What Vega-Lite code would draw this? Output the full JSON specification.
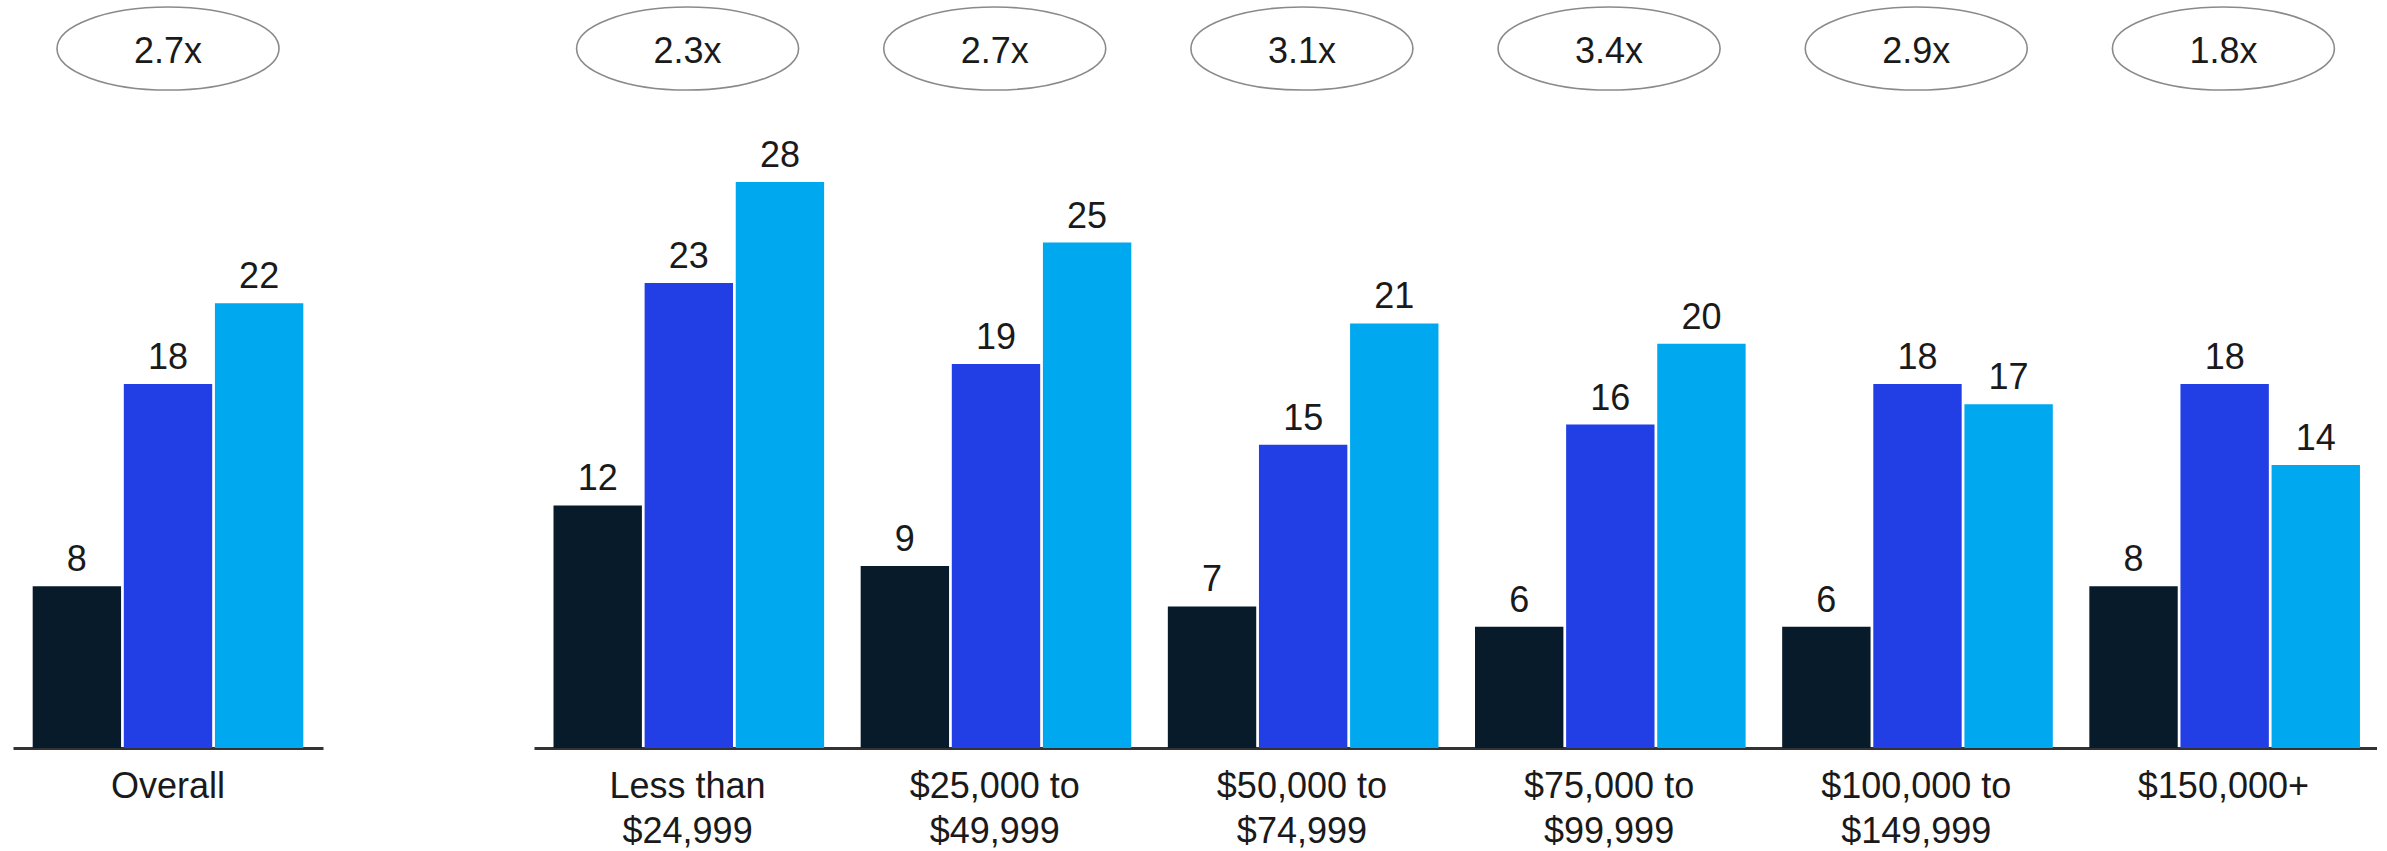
{
  "$schema": "https://vega.github.io/schema/vega-lite/v6.json",
  "background": "white",
  "padding": {"left": 13, "top": 0, "right": 0, "bottom": 0},
  "spacing": 211,
  "bounds": "flush",
  "config": {
    "view": {"stroke": null},
    "font": "Liberation Sans",
    "axis": {"grid": false}
  },
  "datasets": {
    "bars": [
      {"panel": "left", "group": "Overall", "series": "A", "value": 8},
      {"panel": "left", "group": "Overall", "series": "B", "value": 18},
      {"panel": "left", "group": "Overall", "series": "C", "value": 22},
      {"panel": "right", "group": "Less than\n$24,999", "series": "A", "value": 12},
      {"panel": "right", "group": "Less than\n$24,999", "series": "B", "value": 23},
      {"panel": "right", "group": "Less than\n$24,999", "series": "C", "value": 28},
      {"panel": "right", "group": "$25,000 to\n$49,999", "series": "A", "value": 9},
      {"panel": "right", "group": "$25,000 to\n$49,999", "series": "B", "value": 19},
      {"panel": "right", "group": "$25,000 to\n$49,999", "series": "C", "value": 25},
      {"panel": "right", "group": "$50,000 to\n$74,999", "series": "A", "value": 7},
      {"panel": "right", "group": "$50,000 to\n$74,999", "series": "B", "value": 15},
      {"panel": "right", "group": "$50,000 to\n$74,999", "series": "C", "value": 21},
      {"panel": "right", "group": "$75,000 to\n$99,999", "series": "A", "value": 6},
      {"panel": "right", "group": "$75,000 to\n$99,999", "series": "B", "value": 16},
      {"panel": "right", "group": "$75,000 to\n$99,999", "series": "C", "value": 20},
      {"panel": "right", "group": "$100,000 to\n$149,999", "series": "A", "value": 6},
      {"panel": "right", "group": "$100,000 to\n$149,999", "series": "B", "value": 18},
      {"panel": "right", "group": "$100,000 to\n$149,999", "series": "C", "value": 17},
      {"panel": "right", "group": "$150,000+", "series": "A", "value": 8},
      {"panel": "right", "group": "$150,000+", "series": "B", "value": 18},
      {"panel": "right", "group": "$150,000+", "series": "C", "value": 14}
    ],
    "ratios": [
      {"panel": "left", "group": "Overall", "ratio": "2.7x"},
      {"panel": "right", "group": "Less than\n$24,999", "ratio": "2.3x"},
      {"panel": "right", "group": "$25,000 to\n$49,999", "ratio": "2.7x"},
      {"panel": "right", "group": "$50,000 to\n$74,999", "ratio": "3.1x"},
      {"panel": "right", "group": "$75,000 to\n$99,999", "ratio": "3.4x"},
      {"panel": "right", "group": "$100,000 to\n$149,999", "ratio": "2.9x"},
      {"panel": "right", "group": "$150,000+", "ratio": "1.8x"}
    ]
  },
  "resolve": {"scale": {"x": "independent"}},
  "hconcat": [
    {
      "width": 310,
      "height": 748,
      "encoding": {
        "x": {
          "field": "group", "type": "nominal", "sort": null, "title": null,
          "scale": {"paddingInner": 0.127, "paddingOuter": 0.0635},
          "axis": {
            "domain": true, "domainColor": "#333333", "domainWidth": 3,
            "ticks": false, "labelAngle": 0, "labelFontSize": 36, "labelColor": "#1a1a1a",
            "labelPadding": 21, "labelLineHeight": 45, "labelLimit": 500,
            "labelExpr": "split(datum.label, '\\n')"
          }
        }
      },
      "layer": [
        {
          "data": {"name": "bars"},
          "transform": [{"filter": "datum.panel === 'left'"}],
          "mark": {"type": "bar"},
          "encoding": {
            "xOffset": {"field": "series", "type": "nominal", "scale": {"paddingInner": 0.03}},
            "y": {"field": "value", "type": "quantitative", "scale": {"domain": [0, 37], "nice": false}, "axis": null},
            "color": {"field": "series", "type": "nominal", "legend": null,
              "scale": {"domain": ["A", "B", "C"], "range": ["#071b2a", "#213fe5", "#00a8f0"]}}
          }
        },
        {
          "data": {"name": "bars"},
          "transform": [{"filter": "datum.panel === 'left'"}],
          "mark": {"type": "text", "fontSize": 36, "color": "#1a1a1a", "baseline": "alphabetic", "dy": -15},
          "encoding": {
            "xOffset": {"field": "series", "type": "nominal", "scale": {"paddingInner": 0.03}},
            "y": {"field": "value", "type": "quantitative"},
            "text": {"field": "value", "type": "quantitative"}
          }
        },
        {
          "data": {"name": "ratios"},
          "transform": [{"filter": "datum.panel === 'left'"}],
          "mark": {"type": "point", "filled": false, "color": "#8a8a8a", "strokeWidth": 1.6, "opacity": 1, "size": 49284,
            "shape": "M-1,0C-1,-0.2066 -0.5523,-0.374 0,-0.374C0.5523,-0.374 1,-0.2066 1,0C1,0.2066 0.5523,0.374 0,0.374C-0.5523,0.374 -1,0.2066 -1,0Z"},
          "encoding": {"y": {"datum": 34.6, "type": "quantitative"}}
        },
        {
          "data": {"name": "ratios"},
          "transform": [{"filter": "datum.panel === 'left'"}],
          "mark": {"type": "text", "fontSize": 36, "color": "#1a1a1a", "baseline": "middle", "dy": 3},
          "encoding": {"y": {"datum": 34.6, "type": "quantitative"}, "text": {"field": "ratio", "type": "nominal"}}
        }
      ]
    },
    {
      "width": 1843,
      "height": 748,
      "encoding": {
        "x": {
          "field": "group", "type": "nominal", "sort": null, "title": null,
          "scale": {"paddingInner": 0.127, "paddingOuter": 0.0635},
          "axis": {
            "domain": true, "domainColor": "#333333", "domainWidth": 3,
            "ticks": false, "labelAngle": 0, "labelFontSize": 36, "labelColor": "#1a1a1a",
            "labelPadding": 21, "labelLineHeight": 45, "labelLimit": 500,
            "labelExpr": "split(datum.label, '\\n')"
          }
        }
      },
      "layer": [
        {
          "data": {"name": "bars"},
          "transform": [{"filter": "datum.panel === 'right'"}],
          "mark": {"type": "bar"},
          "encoding": {
            "xOffset": {"field": "series", "type": "nominal", "scale": {"paddingInner": 0.03}},
            "y": {"field": "value", "type": "quantitative", "scale": {"domain": [0, 37], "nice": false}, "axis": null},
            "color": {"field": "series", "type": "nominal", "legend": null,
              "scale": {"domain": ["A", "B", "C"], "range": ["#071b2a", "#213fe5", "#00a8f0"]}}
          }
        },
        {
          "data": {"name": "bars"},
          "transform": [{"filter": "datum.panel === 'right'"}],
          "mark": {"type": "text", "fontSize": 36, "color": "#1a1a1a", "baseline": "alphabetic", "dy": -15},
          "encoding": {
            "xOffset": {"field": "series", "type": "nominal", "scale": {"paddingInner": 0.03}},
            "y": {"field": "value", "type": "quantitative"},
            "text": {"field": "value", "type": "quantitative"}
          }
        },
        {
          "data": {"name": "ratios"},
          "transform": [{"filter": "datum.panel === 'right'"}],
          "mark": {"type": "point", "filled": false, "color": "#8a8a8a", "strokeWidth": 1.6, "opacity": 1, "size": 49284,
            "shape": "M-1,0C-1,-0.2066 -0.5523,-0.374 0,-0.374C0.5523,-0.374 1,-0.2066 1,0C1,0.2066 0.5523,0.374 0,0.374C-0.5523,0.374 -1,0.2066 -1,0Z"},
          "encoding": {"y": {"datum": 34.6, "type": "quantitative"}}
        },
        {
          "data": {"name": "ratios"},
          "transform": [{"filter": "datum.panel === 'right'"}],
          "mark": {"type": "text", "fontSize": 36, "color": "#1a1a1a", "baseline": "middle", "dy": 3},
          "encoding": {"y": {"datum": 34.6, "type": "quantitative"}, "text": {"field": "ratio", "type": "nominal"}}
        }
      ]
    }
  ]
}
